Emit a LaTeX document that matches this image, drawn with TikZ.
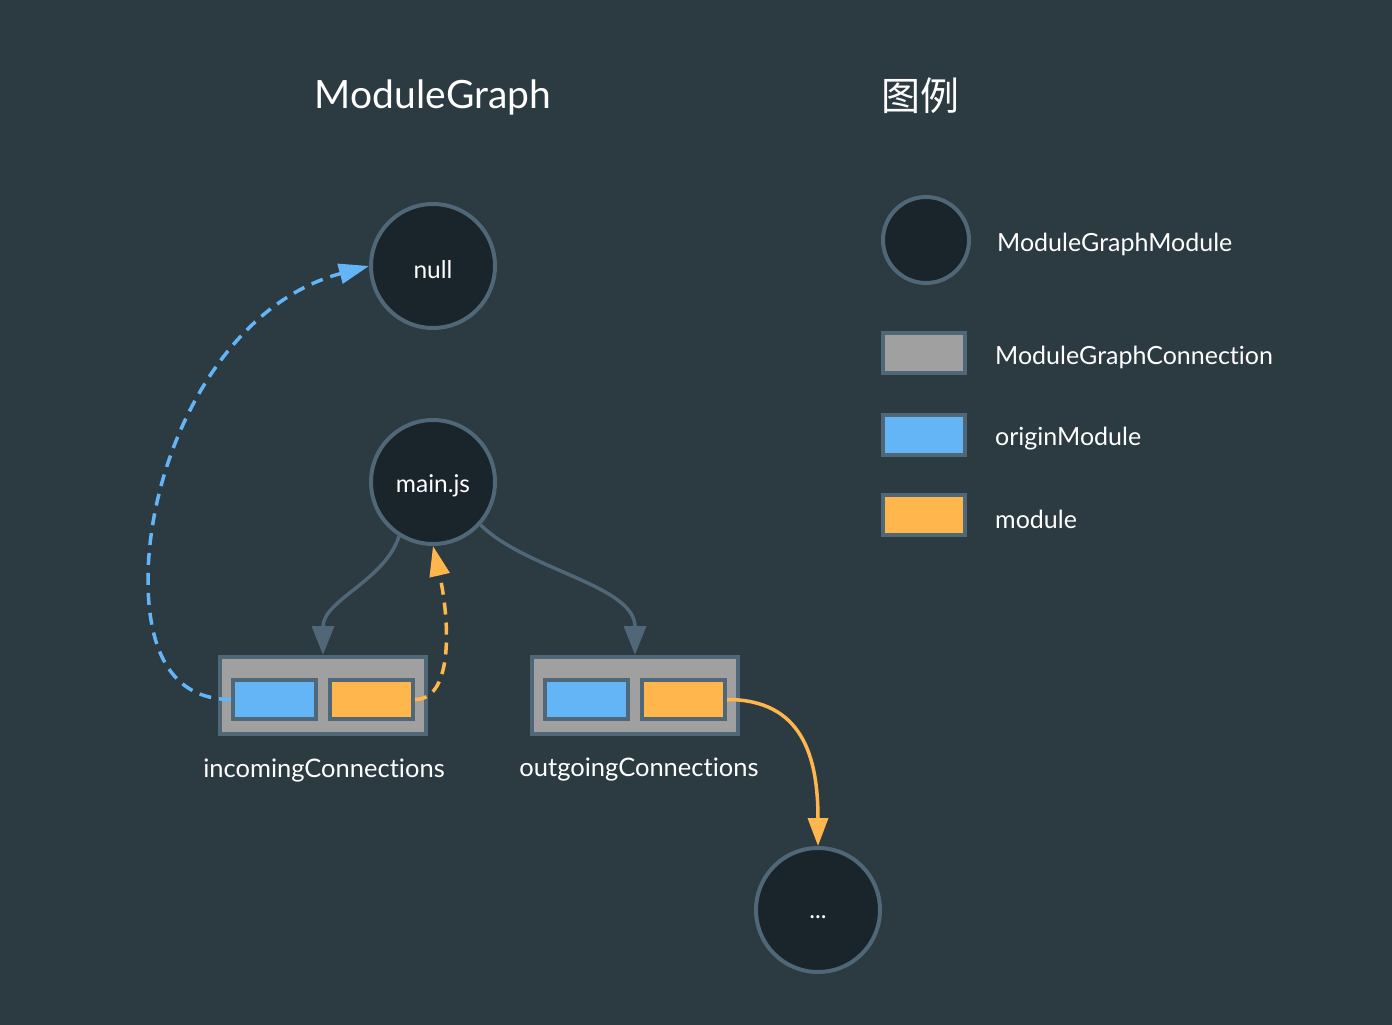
\documentclass[tikz,border=0pt]{standalone}
\usepackage{fontspec}
\setmainfont{Lato}[Ligatures={CommonOff,ContextualOff}]
\newfontfamily\cjk{Noto Sans CJK SC}
\usetikzlibrary{arrows.meta}
\newcommand\lowertxt[2]{\raisebox{0pt}[\dimexpr\height+#1\relax][\depth]{#2}}
\definecolor{bgc}{HTML}{2C3A42}
\definecolor{modfill}{HTML}{1A242B}
\definecolor{edgec}{HTML}{4F6777}
\definecolor{grayc}{HTML}{A0A0A0}
\definecolor{bluec}{HTML}{64B5F6}
\definecolor{orangec}{HTML}{FFB74D}
\tikzset{
  modnode/.style={circle, draw=edgec, line width=4pt, fill=modfill, minimum size=124pt, inner sep=0pt, text=white, font=\fontsize{24.5}{28}\selectfont},
  legmod/.style={circle, draw=edgec, line width=4pt, fill=modfill, minimum size=86pt, inner sep=0pt},
  connbox/.style={rectangle, draw=edgec, line width=4pt, fill=grayc, minimum width=206pt, minimum height=77pt, inner sep=0pt},
  origbox/.style={rectangle, draw=edgec, line width=4pt, fill=bluec, minimum width=83pt, minimum height=39pt, inner sep=0pt},
  modbox/.style={rectangle, draw=edgec, line width=4pt, fill=orangec, minimum width=83pt, minimum height=39pt, inner sep=0pt},
  legbox/.style={rectangle, draw=edgec, line width=4pt, minimum width=82pt, minimum height=40pt, inner sep=0pt},
  lbl/.style={text=white, font=\fontsize{25.5}{29}\selectfont, inner sep=0pt},
  leglbl/.style={text=white, font=\fontsize{25}{29}\selectfont, inner sep=0pt, anchor=west},
  title/.style={text=white, font=\fontsize{39}{43}\selectfont, inner sep=0pt},
  grayedge/.style={draw=edgec, line width=3.5pt, -{Triangle[length=29pt,width=22pt]}},
  blueedge/.style={draw=bluec, line width=3.5pt, dash pattern=on 12pt off 8pt, -{Triangle[length=30pt,width=20pt]}},
  orangedash/.style={draw=orangec, line width=3.5pt, dash pattern=on 12pt off 8pt, -{Triangle[length=30pt,width=20pt]}},
  orangeedge/.style={draw=orangec, line width=3.5pt, -{Triangle[length=28pt,width=20pt]}},
}
\begin{document}
\begin{tikzpicture}[x=1pt,y=1pt]
\fill[bgc] (0,0) rectangle (1392,-1025);
\useasboundingbox (0,0) rectangle (1392,-1025);

% titles
\node[title] (t1) at (433,-97) {ModuleGraph};
\node[title] (t2) at (920,-96) {\cjk 图例};

% modules
\node[modnode] (null) at (433,-266) {\lowertxt{8pt}{null}};
\node[modnode] (mainjs) at (433,-482) {\lowertxt{8pt}{main.js}};
\node[modnode] (dots) at (818,-910) {\lowertxt{14pt}{...}};

% incoming connections
\node[connbox] (inc) at (323,-695.5) {};
\node[origbox] (incO) at (274.5,-699.5) {};
\node[modbox] (incM) at (371.5,-699.5) {};
\node[lbl] (incL) at (324,-771) {incomingConnections};

% outgoing connections
\node[connbox] (out) at (635,-695.5) {};
\node[origbox] (outO) at (586.5,-699.5) {};
\node[modbox] (outM) at (683.5,-699.5) {};
\node[lbl] (outL) at (639,-770) {outgoingConnections};

% edges
\draw[grayedge] (mainjs.238) .. controls +(-15,-45) and +(0,55) .. (inc.north);
\draw[grayedge] (mainjs.318) .. controls +(45,-45) and +(0,70) .. (out.north);
\draw[blueedge] (incO.west) .. controls +(-60,0) and +(0,-70) .. (148,-580)
  .. controls +(0,120) and +(-150,-40) .. (null.west);
\draw[orangedash] (incM.east) .. controls +(40,0) and +(16,-70) .. (mainjs.south);
\draw[orangeedge] (outM.east) .. controls +(75,0) and +(0,90) .. (dots.north);

% legend
\node[legmod] (lg1) at (926,-240) {};
\node[leglbl] (lt1) at (997,-244) {ModuleGraphModule};
\node[legbox, fill=grayc] (lg2) at (924,-353) {};
\node[leglbl] (lt2) at (995,-357) {ModuleGraphConnection};
\node[legbox, fill=bluec] (lg3) at (924,-435) {};
\node[leglbl] (lt3) at (995,-439) {originModule};
\node[legbox, fill=orangec] (lg4) at (924,-515) {};
\node[leglbl] (lt4) at (995,-519) {module};
\end{tikzpicture}
\end{document}
